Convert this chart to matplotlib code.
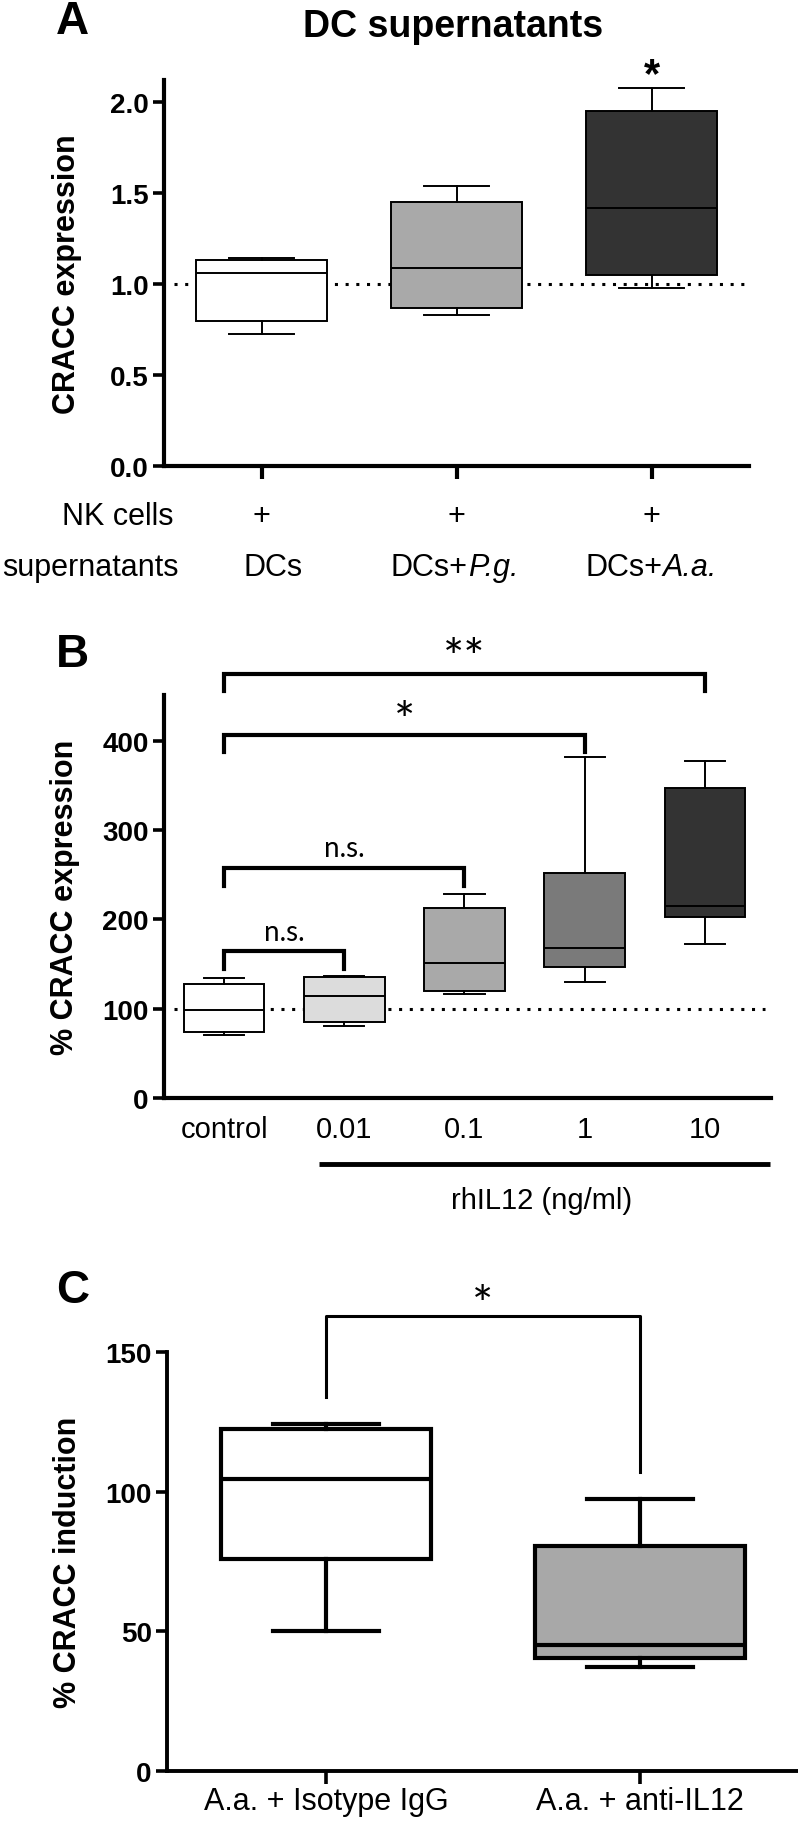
import matplotlib
matplotlib.use("Agg")
import matplotlib.pyplot as plt
import matplotlib.transforms as mtransforms

# Box plot figure with three panels (A: DC supernatants, B: rhIL12 dose, C: IL12 blocking)

plt.rcParams['font.family'] = ['Liberation Sans', 'DejaVu Sans']

# ---- data ----
# panel A
a_nk = ["+", "+", "+"]
a_groups = [("DCs", ""), ("DCs+", "P.g."), ("DCs+", "A.a.")]
a_whislo = [0.725, 0.83, 0.976]
a_q1 = [0.795, 0.866, 1.049]
a_med = [1.059, 1.086, 1.416]
a_q3 = [1.134, 1.452, 1.947]
a_whishi = [1.143, 1.537, 2.075]
a_colors = ["white", "#a9a9a9", "#333333"]
a_yticks = [0.0, 0.5, 1.0, 1.5, 2.0]
a_ytlabels = ["0.0", "0.5", "1.0", "1.5", "2.0"]
a_sig = [(2, "*")]

# panel B
b_groups = ["control", "0.01", "0.1", "1", "10"]
b_whislo = [71, 81, 116, 129.5, 172]
b_q1 = [74, 85, 120, 147, 202]
b_med = [98, 114, 151, 168, 215]
b_q3 = [128, 135.5, 213, 252, 347]
b_whishi = [134, 137, 228, 382, 377]
b_colors = ["white", "#dcdcdc", "#a9a9a9", "#7a7a7a", "#333333"]
b_yticks = [0, 100, 200, 300, 400]
b_pairs = [(0, 4, "**"), (0, 3, "*"), (0, 2, "n.s."), (0, 1, "n.s.")]
b_bar_top = [475, 406.5, 257.5, 164.6]
b_bar_end = [456, 387.5, 237.5, 144.5]
b_label_y = [490, 420, 280, 186]

# panel C
c_groups = ["A.a. + Isotype IgG", "A.a. + anti-IL12"]
c_whislo = [50, 37.2]
c_q1 = [75.8, 40.6]
c_med = [104.7, 45]
c_q3 = [122.6, 80.5]
c_whishi = [124.3, 97.5]
c_colors = ["white", "#a8a8a8"]
c_yticks = [0, 50, 100, 150]
c_bar_top = 163
c_bar_ends = [134, 107]
c_label_y = 166

W, H = 798, 1824
fig = plt.figure(figsize=(W / 100, H / 100), dpi=100)


def px_axes(l, t, r, b):
    return fig.add_axes([l / W, 1 - b / H, (r - l) / W, (b - t) / H])


def fy(ypx):
    return 1 - ypx / H


def boxes(ax, lo, q1, med, q3, hi, colors, lw, width=0.67):
    stats = [dict(whislo=a, q1=b, med=c, q3=d, whishi=e, fliers=[])
             for a, b, c, d, e in zip(lo, q1, med, q3, hi)]
    res = ax.bxp(stats, positions=range(len(stats)), widths=width,
                 capwidths=width / 2, patch_artist=True, showfliers=False,
                 manage_ticks=False, zorder=3,
                 boxprops=dict(linewidth=lw, edgecolor="black"),
                 whiskerprops=dict(linewidth=lw, color="black"),
                 capprops=dict(linewidth=lw, color="black"),
                 medianprops=dict(linewidth=lw, color="black"))
    for patch, c in zip(res["boxes"], colors):
        patch.set_facecolor(c)


def style(ax, spine_lw=3):
    for s in ["top", "right"]:
        ax.spines[s].set_visible(False)
    for s in ["left", "bottom"]:
        ax.spines[s].set_linewidth(spine_lw)
    ax.tick_params(axis="y", direction="out", length=8, width=2.6,
                   labelsize=20, pad=3)


def set_ylab(ax, text, xpx):
    ax.set_ylabel(text, fontsize=22, fontweight="bold")
    tr = mtransforms.blended_transform_factory(fig.transFigure, ax.transAxes)
    ax.yaxis.set_label_coords(xpx / W, 0.5, transform=tr)


# ---------------- panel A ----------------
axA = px_axes(164, 81, 749, 467)
boxes(axA, a_whislo, a_q1, a_med, a_q3, a_whishi, a_colors, lw=1.4)
axA.hlines(1.0, -0.45, 2.48, colors="black", linewidth=2.2,
           linestyles=(0, (1, 2.5)), zorder=1)
axA.set_xlim(-0.5, 2.5)
axA.set_ylim(0, 2.12)
style(axA)
axA.set_yticks(a_yticks, a_ytlabels, fontweight="bold")
axA.set_xticks(range(3), [""] * 3)
axA.tick_params(axis="x", direction="out", length=9, width=3)
set_ylab(axA, "CRACC expression", 82)
for x, s in a_sig:
    axA.text(x, a_whishi[x] + 0.07, s, ha="center", va="center",
             fontsize=30, fontweight="bold")
trA = mtransforms.blended_transform_factory(axA.transData, fig.transFigure)
for i, (p, (plain, ital)) in enumerate(zip(a_nk, a_groups)):
    axA.text(i, fy(517), p, transform=trA, ha="center", va="center", fontsize=22)
    if ital:
        # split "DCs+" / italic species name around a point right of centre
        axA.annotate(plain, (i, fy(568)), xycoords=trA, xytext=(8.2, 0),
                     textcoords="offset points", ha="right", va="center",
                     fontsize=22)
        axA.annotate(ital, (i, fy(568)), xycoords=trA, xytext=(8.2, 0),
                     textcoords="offset points", ha="left", va="center",
                     fontsize=22, style="italic")
    else:
        axA.text(i + 0.06, fy(568), plain, transform=trA,
                 ha="center", va="center", fontsize=22)
fig.text(173 / W, fy(517), "NK cells", ha="right", va="center", fontsize=22)
fig.text(179 / W, fy(568), "supernatants", ha="right", va="center", fontsize=22)
fig.text(453 / W, fy(27), "DC supernatants", ha="center", va="center",
         fontsize=27, fontweight="bold")
fig.text(56 / W, fy(22), "A", ha="left", va="center", fontsize=33,
         fontweight="bold")

# ---------------- panel B ----------------
axB = px_axes(164, 696, 771, 1099)
boxes(axB, b_whislo, b_q1, b_med, b_q3, b_whishi, b_colors, lw=1.4)
axB.hlines(100, -0.42, 4.5, colors="black", linewidth=2.2,
           linestyles=(0, (1, 2.5)), zorder=1)
axB.set_xlim(-0.5, 4.55)
axB.set_ylim(0, 451)
style(axB)
axB.set_yticks(b_yticks, [str(v) for v in b_yticks], fontweight="bold")
axB.set_xticks(range(5), b_groups, fontsize=21)
axB.tick_params(axis="x", length=0, pad=12)
set_ylab(axB, "% CRACC expression", 80)
for (i, j, s), top, end, ly in zip(b_pairs, b_bar_top, b_bar_end, b_label_y):
    axB.plot([i, i, j, j], [end, top, top, end], color="black", lw=3,
             clip_on=False, solid_joinstyle="miter")
    if s == "n.s.":
        axB.text((i + j) / 2, ly, s, ha="center", va="center", fontsize=20,
                 family="Lato")
    else:
        axB.text((i + j) / 2, ly, s, ha="center", va="center", fontsize=36,
                 family="Lato")
trB = mtransforms.blended_transform_factory(axB.transData, axB.transAxes)
axB.plot([0.79, 4.54], [-0.164, -0.164], transform=trB, color="black",
         lw=3.5, clip_on=False, solid_capstyle="butt")
axB.text(2.64, -0.253, "rhIL12 (ng/ml)", transform=trB, ha="center",
         va="center", fontsize=21)
fig.text(56 / W, fy(655), "B", ha="left", va="center", fontsize=33,
         fontweight="bold")

# ---------------- panel C ----------------
axC = px_axes(167, 1353, 798, 1772)
boxes(axC, c_whislo, c_q1, c_med, c_q3, c_whishi, c_colors, lw=3)
axC.set_xlim(-0.506, 1.503)
axC.set_ylim(0, 150)
style(axC, spine_lw=2.8)
axC.set_yticks(c_yticks, [str(v) for v in c_yticks], fontweight="bold")
axC.set_xticks(range(2), c_groups, fontsize=22)
axC.tick_params(axis="x", direction="out", length=9, width=2.6, pad=2)
set_ylab(axC, "% CRACC induction", 83)
axC.plot([0, 0, 1, 1], [c_bar_ends[0], c_bar_top, c_bar_top, c_bar_ends[1]],
         color="black", lw=2.2, clip_on=False)
axC.text(0.5, c_label_y, "*", ha="center", va="center", fontsize=36,
         family="Lato")
fig.text(56 / W, fy(1291), "C", ha="left", va="center", fontsize=33,
         fontweight="bold")

fig.savefig("out.png", dpi=100)
